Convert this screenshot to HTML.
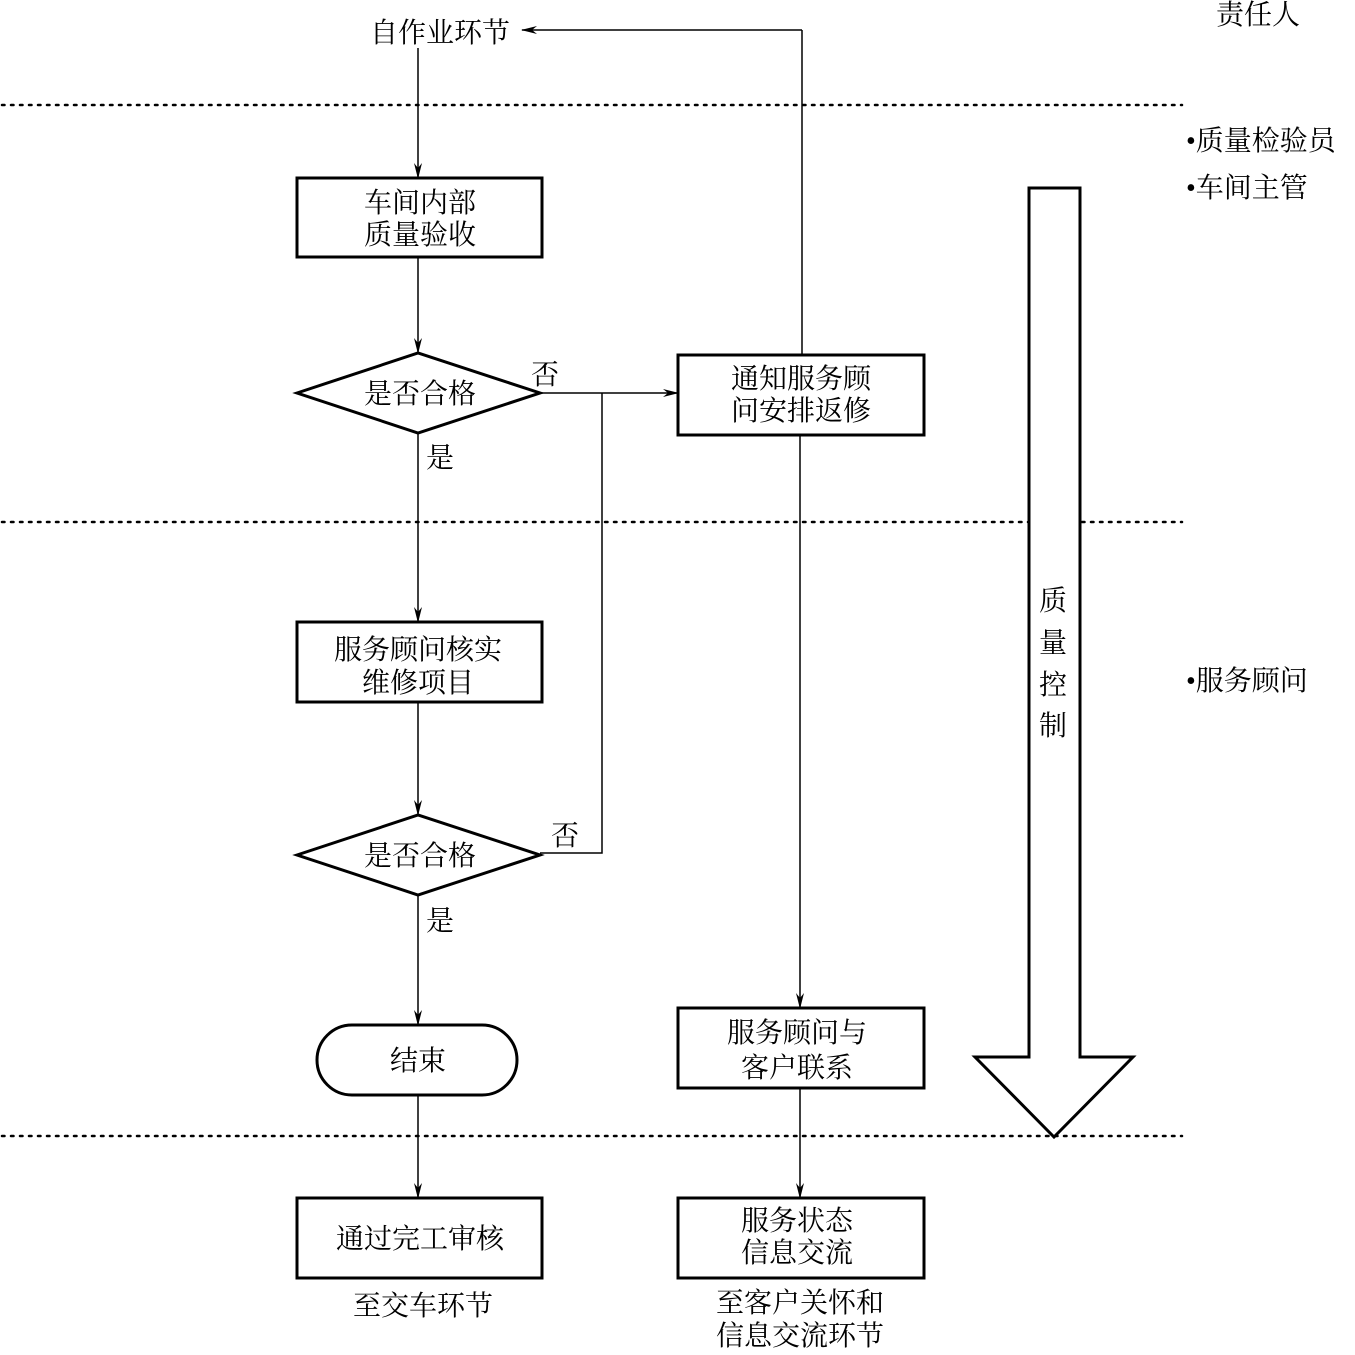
<!DOCTYPE html>
<html><head><meta charset="utf-8"><style>
html,body{margin:0;padding:0;background:#fff}
svg text{font-family:"Liberation Serif","Noto Serif CJK SC",serif;fill:#000}
</style></head><body>
<svg width="1355" height="1350" viewBox="0 0 1355 1350" xmlns="http://www.w3.org/2000/svg">
<defs>
<marker id="a" markerWidth="16" markerHeight="8" refX="15" refY="4" orient="auto" markerUnits="userSpaceOnUse">
<path d="M0,0 L16,4 L0,8 L5,4 Z" fill="#000"/></marker>
</defs>
<g stroke="#000" stroke-width="2.5" stroke-dasharray="2.5,6.5" stroke-linecap="round">
<line x1="2" y1="105" x2="1182" y2="105"/>
<line x1="2" y1="522" x2="1182" y2="522"/>
<line x1="2" y1="1136" x2="1182" y2="1136"/>
</g>
<g fill="none" stroke="#000" stroke-width="1.5">
<line x1="802" y1="355" x2="802" y2="30"/>
<line x1="802" y1="30" x2="522" y2="30" marker-end="url(#a)"/>
<line x1="418" y1="48" x2="418" y2="178" marker-end="url(#a)"/>
<line x1="418" y1="257" x2="418" y2="353" marker-end="url(#a)"/>
<line x1="540" y1="393" x2="678" y2="393" marker-end="url(#a)"/>
<line x1="418" y1="433" x2="418" y2="622" marker-end="url(#a)"/>
<line x1="418" y1="702" x2="418" y2="815" marker-end="url(#a)"/>
<polyline points="540,853 602,853 602,393"/>
<line x1="418" y1="895" x2="418" y2="1025" marker-end="url(#a)"/>
<line x1="418" y1="1095" x2="418" y2="1198" marker-end="url(#a)"/>
<line x1="800" y1="435" x2="800" y2="1008" marker-end="url(#a)"/>
<line x1="800" y1="1088" x2="800" y2="1198" marker-end="url(#a)"/>
</g>
<g fill="#fff" stroke="#000" stroke-width="3">
<rect x="297" y="178" width="245" height="79"/>
<polygon points="297,393 418,353 540,393 418,433"/>
<rect x="297" y="622" width="245" height="80"/>
<polygon points="297,855 418,815 540,855 418,895"/>
<rect x="317" y="1025" width="200" height="70" rx="35"/>
<rect x="297" y="1198" width="245" height="80"/>
<rect x="678" y="355" width="246" height="80"/>
<rect x="678" y="1008" width="246" height="80"/>
<rect x="678" y="1198" width="246" height="80"/>
<path d="M1029,188 L1080,188 L1080,1057 L1133,1057 L1054,1137 L975,1057 L1029,1057 Z"/>
</g>
<g font-size="28" text-anchor="middle">
<text x="440" y="42">自作业环节</text>
<text x="420" y="212">车间内部</text>
<text x="420" y="244">质量验收</text>
<text x="420" y="403">是否合格</text>
<text x="545" y="384">否</text>
<text x="440" y="467">是</text>
<text x="418" y="659">服务顾问核实</text>
<text x="418" y="692">维修项目</text>
<text x="420" y="865">是否合格</text>
<text x="565" y="845">否</text>
<text x="440" y="930">是</text>
<text x="418" y="1070">结束</text>
<text x="420" y="1248">通过完工审核</text>
<text x="423" y="1315">至交车环节</text>
<text x="801" y="388">通知服务顾</text>
<text x="801" y="420">问安排返修</text>
<text x="797" y="1042">服务顾问与</text>
<text x="797" y="1077">客户联系</text>
<text x="797" y="1230">服务状态</text>
<text x="797" y="1262">信息交流</text>
<text x="800" y="1312">至客户关怀和</text>
<text x="800" y="1345">信息交流环节</text>
<text x="1053" y="610">质</text>
<text x="1053" y="652">量</text>
<text x="1053" y="694">控</text>
<text x="1053" y="735">制</text>
<text x="1258" y="24">责任人</text>
</g>
<g font-size="28">
<text x="1186" y="150">•质量检验员</text>
<text x="1186" y="197">•车间主管</text>
<text x="1186" y="690">•服务顾问</text>
</g>
</svg>
</body></html>
